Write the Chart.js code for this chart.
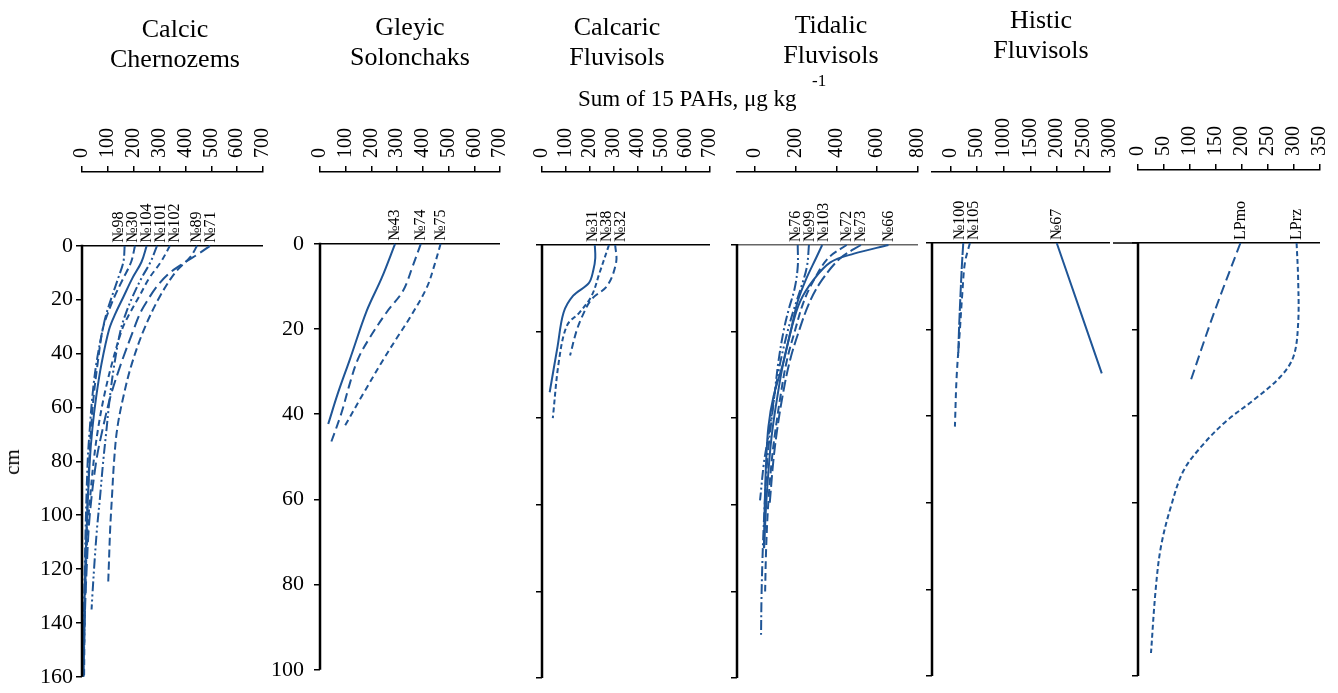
<!DOCTYPE html>
<html><head><meta charset="utf-8">
<script src="https://cdn.jsdelivr.net/npm/chart.js@4.4.1/dist/chart.umd.min.js"></script>
<style>
html,body{margin:0;padding:0;background:#fff;}
#wrap{position:relative;width:1338px;height:693px;overflow:hidden;font-family:"Liberation Serif","Times New Roman",serif;color:#000;}
canvas{position:absolute;top:0;}
.ttl{position:absolute;font-size:26px;line-height:30px;text-align:center;white-space:nowrap;transform:translateX(-50%);}
#axt{position:absolute;left:578px;top:86px;font-size:23px;line-height:26px;white-space:nowrap;}
#sup{position:absolute;left:812px;top:71px;font-size:17px;line-height:20px;}
#cm{position:absolute;left:12px;top:462px;font-size:21px;line-height:24px;transform:translate(-50%,-50%) rotate(-90deg);}
</style></head><body><div id="wrap">
<canvas id="c1" width="281" height="693" style="left:0px"></canvas>
<canvas id="c2" width="256" height="693" style="left:262px"></canvas>
<canvas id="c3" width="218" height="693" style="left:510px"></canvas>
<canvas id="c4" width="219" height="693" style="left:717px"></canvas>
<canvas id="c5" width="216" height="693" style="left:912px"></canvas>
<canvas id="c6" width="238" height="693" style="left:1100px"></canvas>
<div class="ttl" style="left:175px;top:14px">Calcic<br>Chernozems</div>
<div class="ttl" style="left:410px;top:12px">Gleyic<br>Solonchaks</div>
<div class="ttl" style="left:617px;top:12px">Calcaric<br>Fluvisols</div>
<div class="ttl" style="left:831px;top:10px">Tidalic<br>Fluvisols</div>
<div class="ttl" style="left:1041px;top:5px">Histic<br>Fluvisols</div>
<div id="axt">Sum of 15 PAHs, μg kg</div>
<div id="sup">-1</div>
<div id="cm">cm</div>
</div>
<script>
// ---------- DATA ----------
// Calcic Chernozems
const ccNames = ['№98','№30','№104','№101','№102','№89','№71'];
const ccDepth = [
  [0,6,12,19,25,31,44,56,68,80,105,130,160],
  [0,6,12,19,25,31,44,56,68,80,105,130,150],
  [0,6,12,19,25,31,44,56,68,80,105,130,160],
  [0,6,12,19,25,31,44,56,68,80,93,105,118,130,135],
  [0,6,12,19,25,31,44,56,68,80,93,105,130,160],
  [0,4,10,19,31,44,56,68,80,93,105,118,126],
  [0,3,6,10,15,20,25,31,44,56,68,80,100,120,140,160]
];
const ccValue = [
  [165,160,140,115,95,80,55,40,30,22,14,9,5],
  [205,190,160,125,100,80,60,45,35,28,18,12,8],
  [250,230,195,160,130,105,75,55,40,30,18,10,5],
  [290,265,230,195,170,150,125,108,95,82,70,58,48,40,37],
  [340,305,260,220,185,155,115,85,62,45,32,22,12,8],
  [445,420,360,300,240,192,160,136,124,116,109,104,101],
  [495,450,400,340,290,255,225,200,150,110,80,55,30,18,10,5]
];
// Gleyic Solonchaks
const gsNames = ['№43','№74','№75'];
const gsDepth = [
  [0,8,15.7,27,35,42.3],
  [0,5,11,16,21.9,27,33,39.6,47.3],
  [0,5,10.3,17.3,22,27.2,35,42.7]
];
const gsValue = [
  [292,240,182,117,70,32],
  [392,362,323,260,195,148,115,84,39],
  [469,445,415,350,300,246,170,97]
];
// Calcaric Fluvisols
const cfNames = ['№31','№38','№32'];
const cfDepth = [
  [0,3,5.8,8.8,11.7,15.6,23.4,34],
  [0,6.4,11.7,15.6,18.6,27,40],
  [0,4,9.4,12.5,16.3,20,25.5]
];
const cfValue = [
  [220,222,214,195,130,90,65,32],
  [279,240,207,156,104,70,45],
  [305,309,272,207,169,143,117]
];
// Tidalic Fluvisols
const tfNames = ['№76','№99','№103','№72','№73','№66'];
const tfDepth = [
  [0,5,10,15,20,27,35,43,50,58,66,74,82,90],
  [0,5,10,15,20,27,35,43,50,59],
  [0,3,8,13,20,27,35,43,50,60,70],
  [0,3,8,13,20,27,35,43,50,60,70,80],
  [0,3,8,13,20,27,35,43,50,60],
  [0,2,4,8,13,19,27,35,42,50,60,70]
];
const tfValue = [
  [210,210,195,165,140,115,95,75,60,50,42,36,32,30],
  [265,255,225,190,160,125,95,70,45,25],
  [330,300,250,210,175,140,110,85,70,55,45],
  [450,360,290,240,195,155,125,100,82,65,55,50],
  [520,420,330,270,215,170,135,108,90,72],
  [655,486,370,288,222,181,140,91,66,55,48,44]
];
// Histic Fluvisols
const hfNames = ['№100','№105','№67'];
const hfDepth = [
  [0,5,10,20,26],
  [0,4.6,12,20,31,42.4],
  [0,30.1]
];
const hfValue = [
  [240,215,195,160,146],
  [365,271,220,177,115,83],
  [1998,2845]
];
// LP profiles
const lpNames = ['LPmo','LPrz'];
const lpDepth = [
  [0,16.2,31.9],
  [0,8.5,18.5,26.2,31,36.3,41,46.3,52.5,61,70.2,80,94.7]
];
const lpValue = [
  [197,146,101],
  [305,308,308,299,273,222,171,127,88,63,44,34,25]
];
// Tick labels
const ticks700 = [0,100,200,300,400,500,600,700];
const ticks800 = [0,200,400,600,800];
const ticks3000 = [0,500,1000,1500,2000,2500,3000];
const ticks350 = [0,50,100,150,200,250,300,350];
const depthTicks160 = [0,20,40,60,80,100,120,140,160];
const depthTicks100 = [0,20,40,60,80,100];

// ---------- STYLES ----------
const LINE = '#1f5596';
const FONT = '"Liberation Serif", "Times New Roman", serif';
const TICK_SIZE = 20;
const DD = [10,3,2,3], DDD = [10,3,2,3,2,3];
const ccDash = [DD,[8,4],[],DDD,[6,4],[8,4],[12,5]];
const gsDash = [[],[9,5],[6,4]];
const cfDash = [[],[5,3],[7,4]];
const tfDash = [DD,DDD,[],[8,4],[12,4],[]];
const hfDash = [[12,2],[6,4],[]];
const lpDash = [[10,5],[5,3]];

function spread(xs, gap){
  const items = xs.map((x,i)=>({x,i})).sort((a,b)=>a.x-b.x);
  let cl = items.map(it=>({m:[it],c:it.x}));
  let ch = true;
  while(ch){
    ch = false;
    for(let k=0;k<cl.length-1;k++){
      const a=cl[k], b=cl[k+1];
      const aR = a.c + (a.m.length-1)*gap/2, bL = b.c - (b.m.length-1)*gap/2;
      if(bL - aR < gap){
        const m = a.m.concat(b.m);
        const c = m.reduce((s,q)=>s+q.x,0)/m.length;
        cl.splice(k,2,{m,c}); ch = true; break;
      }
    }
  }
  const out = [];
  cl.forEach(c=>c.m.forEach((q,j)=>{ out[q.i] = c.c + (j-(c.m.length-1)/2)*gap; }));
  return out;
}

const depthAxis = {
  id:'depthAxis',
  afterDraw(chart, args, opts){
    const ctx = chart.ctx, xs = chart.scales.x, ys = chart.scales.y, area = chart.chartArea;
    const y0 = ys.getPixelForValue(0), yEnd = ys.getPixelForValue(ys.max);
    ctx.save();
    ctx.strokeStyle = '#000'; ctx.lineWidth = 2.5;
    ctx.beginPath(); ctx.moveTo(area.left, y0 - 1); ctx.lineTo(area.left, yEnd); ctx.stroke();
    if(opts.extendZero){
      ctx.lineWidth = 1.5;
      ctx.beginPath(); ctx.moveTo(area.left - opts.extendZero, y0); ctx.lineTo(area.left, y0); ctx.stroke();
    }
    // sample labels at each profile's surface value
    const xsPix = chart.data.datasets.map(ds => xs.getPixelForValue(ds.data[0].x));
    const pos = spread(xsPix, 14);
    ctx.fillStyle = '#000';
    ctx.font = '16px ' + FONT;
    ctx.textAlign = 'left'; ctx.textBaseline = 'middle';
    chart.data.datasets.forEach((ds,i)=>{
      ctx.save();
      ctx.translate(pos[i], y0 - 3);
      ctx.rotate(-Math.PI/2);
      ctx.fillText(ds.label, 0, 0);
      ctx.restore();
    });
    ctx.restore();
  }
};

function makePanel(p){
  const datasets = p.names.map((n,i)=>({
    label:n,
    data:p.depth[i].map((d,j)=>({x:p.value[i][j], y:d})),
    borderColor:LINE, borderWidth:2, borderDash:p.dash[i],
    pointRadius:0, fill:false, tension:0.35
  }));
  new Chart(document.getElementById(p.id), {
    type:'line',
    data:{datasets},
    options:{
      responsive:false, animation:false, devicePixelRatio:1,
      layout:{padding:{left:0, top:0, right:p.padR, bottom:p.padB}},
      plugins:{legend:{display:false}, tooltip:{enabled:false}, title:{display:false}, depthAxis:{extendZero:p.extendZero||0}},
      scales:{
        x:{type:'linear', position:'top', min:p.xMin, max:p.xMax,
          afterFit:s=>{ s.height = p.axisH; },
          afterBuildTicks:s=>{ s.ticks = p.xTicks.map(v=>({value:v})); },
          ticks:{autoSkip:false, minRotation:90, maxRotation:90, padding:8, color:'#000',
                 labelOffset: TICK_SIZE*1.2,
                 font:{family:FONT, size:TICK_SIZE}, callback:v=>String(v)},
          grid:{drawOnChartArea:false, drawTicks:true, tickLength:6, color:'#000', tickColor:'#000', lineWidth:1.5},
          border:{display:true, color:'#000', width:1.5}
        },
        y:{type:'linear', reverse:true, min:p.yMin, max:p.yMax,
          afterFit:s=>{ s.width = p.yW; },
          afterBuildTicks:s=>{ s.ticks = p.yTicks.map(v=>({value:v})); },
          ticks:{display:p.yLabels, padding:p.yPad||4, color:'#000', font:{family:FONT, size:22}, callback:v=>String(v)},
          grid:{drawOnChartArea:true, drawTicks:true, tickLength:6,
                color:c=>(c.tick && c.tick.value===0) ? (p.zeroColor||'#000') : 'rgba(0,0,0,0)',
                tickColor:'#000', lineWidth:1.5},
          border:{display:false}
        }
      }
    },
    plugins:[depthAxis]
  });
}

makePanel({id:'c1', names:ccNames, depth:ccDepth, value:ccValue, dash:ccDash,
  xMin:0, xMax:700, xTicks:ticks700, yMin:-27.41, yMax:160, yTicks:depthTicks160,
  yW:82, yLabels:true, yPad:3, axisH:172, padR:18, padB:15});
makePanel({id:'c2', names:gsNames, depth:gsDepth, value:gsValue, dash:gsDash,
  xMin:0, xMax:700, xTicks:ticks700, yMin:-16.86, yMax:100, yTicks:depthTicks100,
  yW:58, yLabels:true, yPad:10, axisH:172, padR:18, padB:15});
makePanel({id:'c3', names:cfNames, depth:cfDepth, value:cfValue, dash:cfDash,
  xMin:0, xMax:700, xTicks:ticks700, yMin:-16.86, yMax:100, yTicks:depthTicks100,
  yW:20, yLabels:false, axisH:172, padR:18, padB:15});
makePanel({id:'c4', names:tfNames, depth:tfDepth, value:tfValue, dash:tfDash,
  xMin:-88, xMax:800, xTicks:ticks800, yMin:-16.86, yMax:100, yTicks:depthTicks100,
  yW:20, yLabels:false, axisH:172, padR:18, padB:15, zeroColor:'#666'});
makePanel({id:'c5', names:hfNames, depth:hfDepth, value:hfValue, dash:hfDash,
  xMin:-348, xMax:3000, xTicks:ticks3000, yMin:-16.4, yMax:100, yTicks:depthTicks100,
  yW:20, yLabels:false, axisH:172, padR:18, padB:17});
makePanel({id:'c6', names:lpNames, depth:lpDepth, value:lpValue, dash:lpDash,
  xMin:0, xMax:350, xTicks:ticks350, yMin:-16.86, yMax:100, yTicks:depthTicks100,
  yW:38, yLabels:false, axisH:170, padR:18, padB:17, extendZero:25});
</script>
</body></html>
